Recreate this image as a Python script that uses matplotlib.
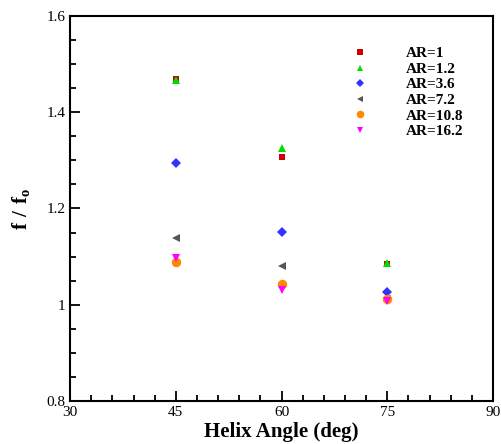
import matplotlib.pyplot as plt
from matplotlib.ticker import MultipleLocator
import numpy as np

plt.rcParams['font.family'] = ['Liberation Serif', 'DejaVu Serif']
plt.rcParams['mathtext.fontset'] = 'custom'
plt.rcParams['mathtext.rm'] = 'Liberation Serif'
plt.rcParams['mathtext.bf'] = 'Liberation Serif:bold'

#-------------Data:
angles = [45, 60, 75]
ar_labels = ['AR=1', 'AR=1.2', 'AR=3.6', 'AR=7.2', 'AR=10.8', 'AR=16.2']
ar_1 = [1.469, 1.307, 1.084]
ar_1_2 = [1.466, 1.325, 1.086]
ar_3_6 = [1.294, 1.151, 1.026]
ar_7_2 = [1.138, 1.081, 1.012]
ar_10_8 = [1.088, 1.044, 1.011]
ar_16_2 = [1.097, 1.030, 1.007]

xticks = [30, 45, 60, 75, 90]
yticks = [0.8, 1.0, 1.2, 1.4, 1.6]
ytick_labels = ['0.8', '1', '1.2', '1.4', '1.6']

series = [ar_1, ar_1_2, ar_3_6, ar_7_2, ar_10_8, ar_16_2]
markers = ['s', '^', 'D', '<', 'o', 'v']
colors = ['#cc0000', '#00dd00', '#3333ff', '#555555', '#ff8800', '#ff00ff']
sizes = [4.8, 5.8, 4.8, 5.5, 6.8, 5.8]

#-------------Figure:
fig = plt.figure(figsize=(5.01, 4.44), dpi=100, facecolor='white')
ax = fig.add_axes([0.14, 0.097, 0.844, 0.867])

for vals, mk, c, ms, lab in zip(series, markers, colors, sizes, ar_labels):
    ax.plot(angles, vals, linestyle='none', marker=mk, color=c, markersize=ms,
            markeredgewidth=0, label=lab)

ax.set_xlim(30, 90)
ax.set_ylim(0.8, 1.6)
ax.set_xticks(xticks)
ax.set_yticks(yticks)
ax.set_yticklabels(ytick_labels)
ax.xaxis.set_minor_locator(MultipleLocator(3))
ax.yaxis.set_minor_locator(MultipleLocator(0.05))
ax.tick_params(which='both', direction='in', top=False, right=False, labelsize=11, width=1.3)
ax.tick_params(which='major', length=7)
ax.tick_params(which='minor', length=4)
for s in ax.spines.values():
    s.set_linewidth(1.5)

ax.set_xlabel('Helix Angle (deg)', fontsize=15, fontweight='bold', labelpad=2)
ax.set_ylabel(r'$\mathbf{f\ /\ f_o}$', fontsize=15, labelpad=10)

ax.legend(loc='upper left', bbox_to_anchor=(0.631, 0.94), frameon=False,
          prop={'weight': 'bold', 'size': 11}, handlelength=2, handletextpad=2.0,
          labelspacing=0.12, borderpad=0, markerscale=0.8)

fig.savefig('out.png', dpi=100)
